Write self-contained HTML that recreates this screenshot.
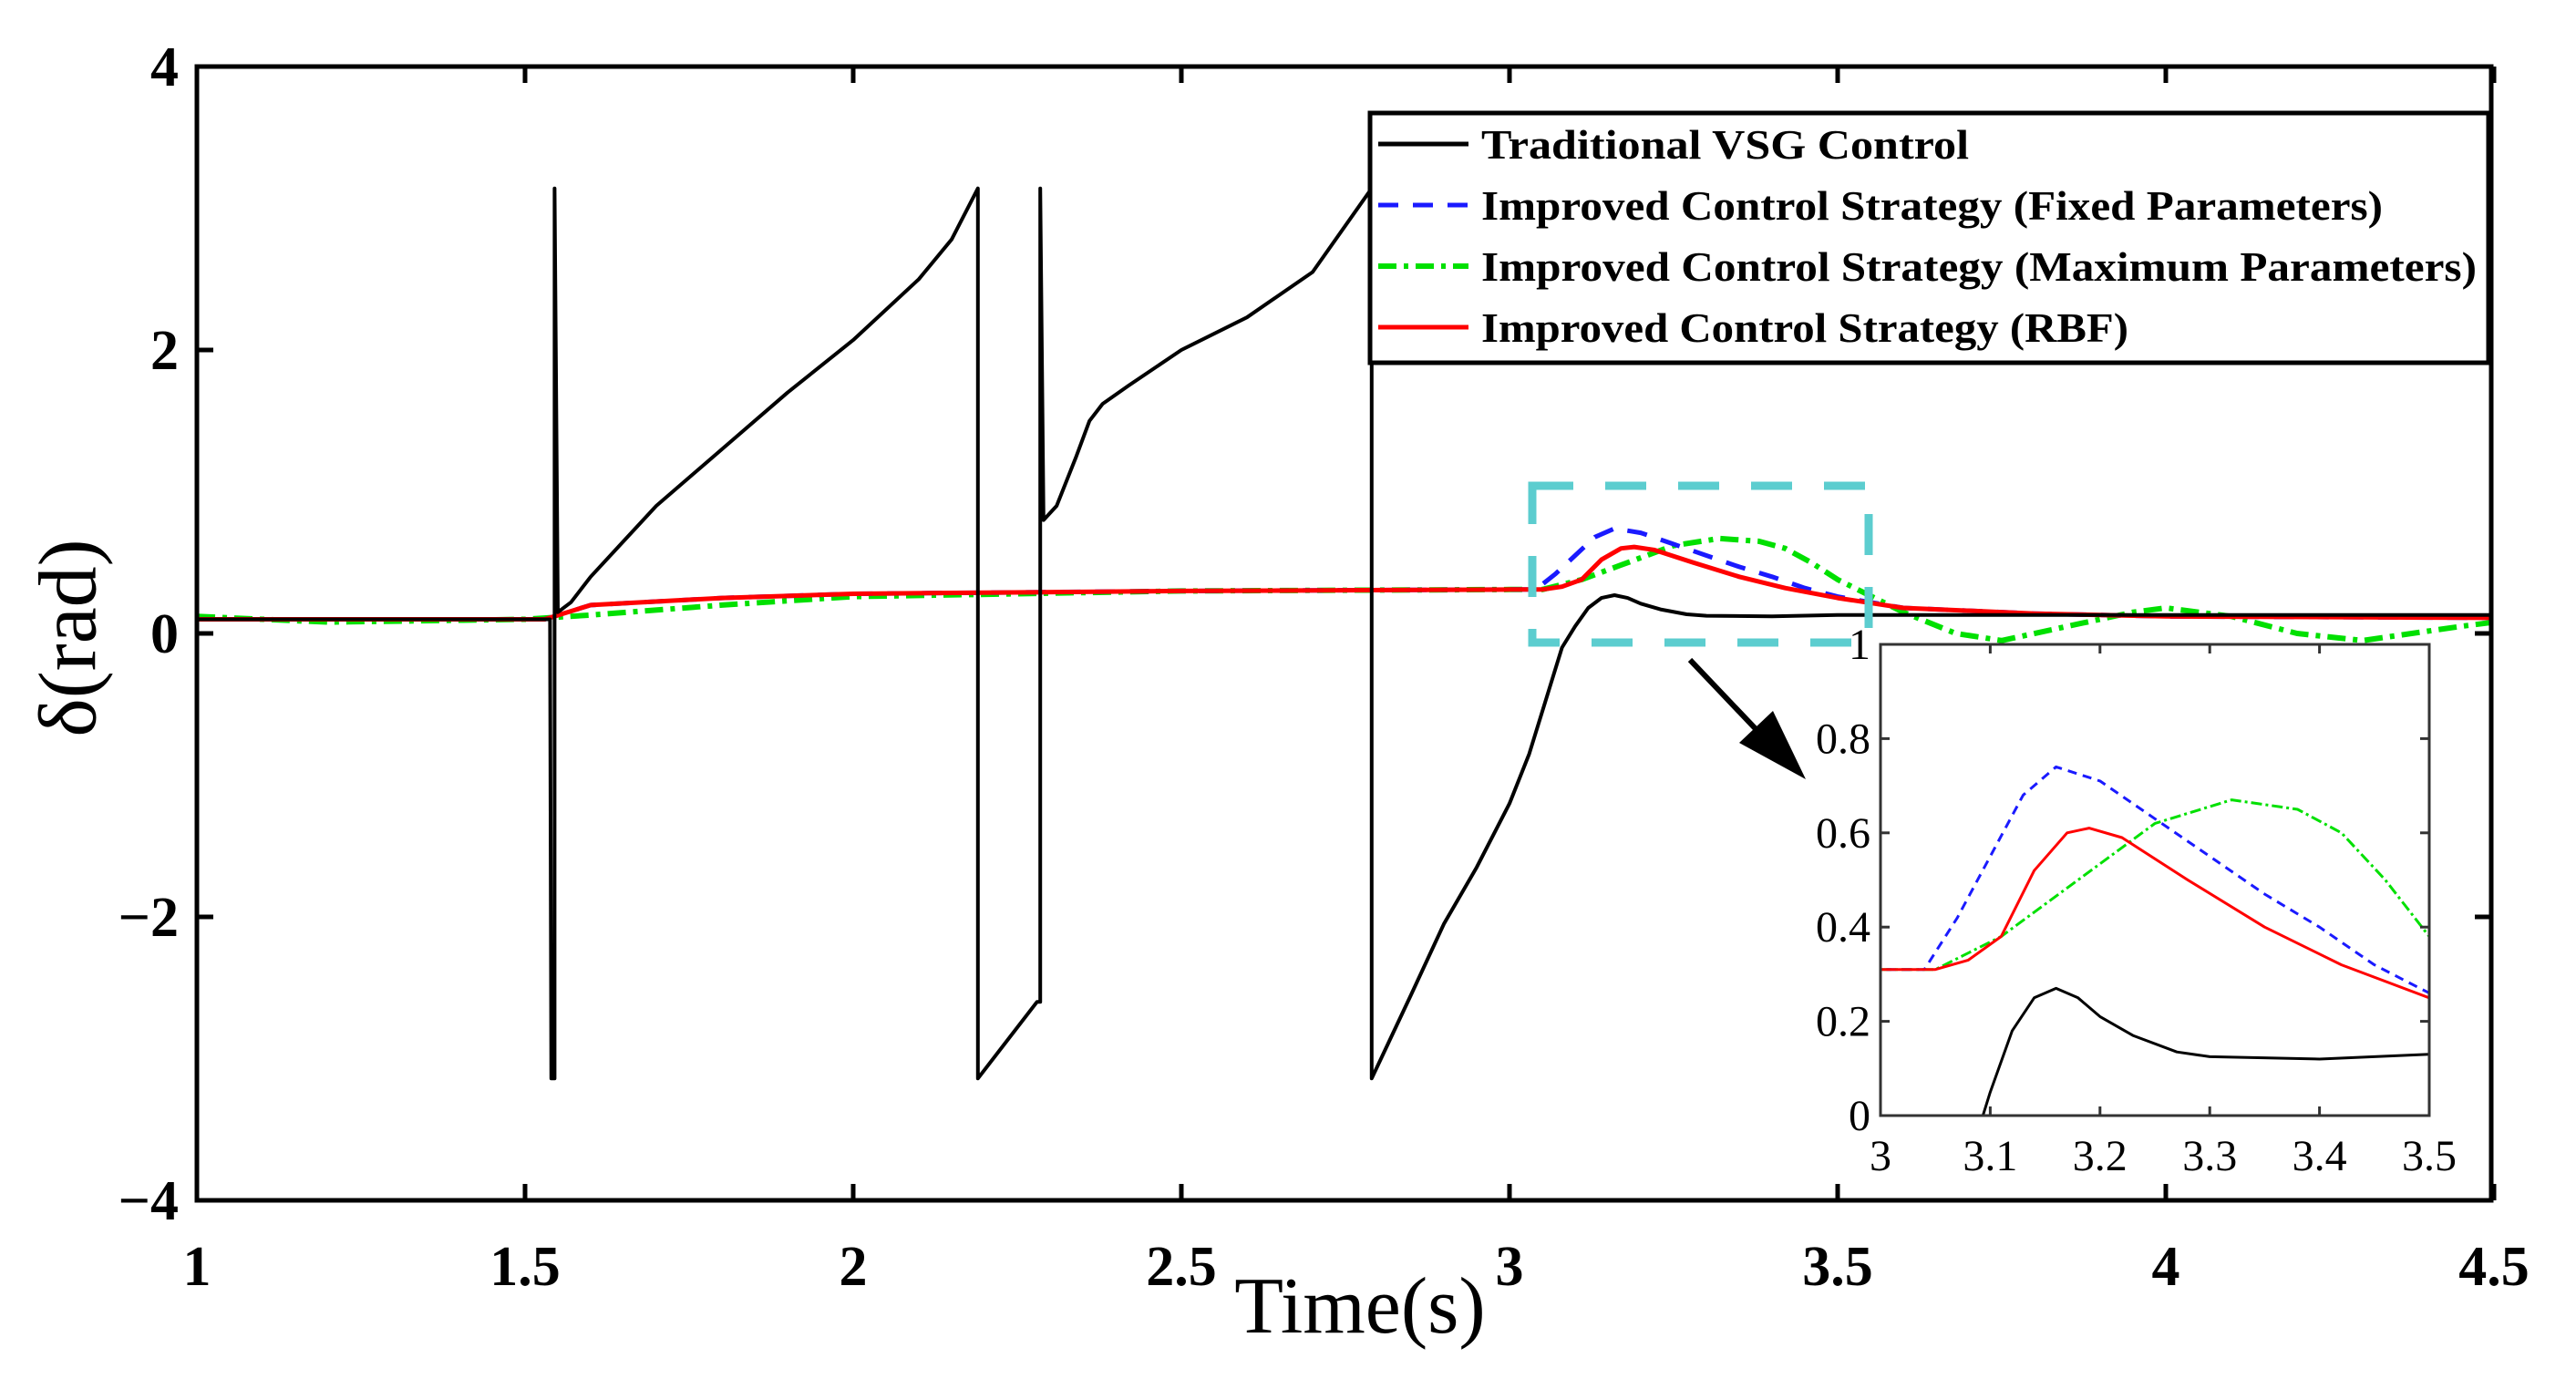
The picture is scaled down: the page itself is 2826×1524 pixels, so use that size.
<!DOCTYPE html>
<html><head><meta charset="utf-8"><style>
html,body{margin:0;padding:0;background:#fff;overflow:hidden}
svg{display:block}
text{font-family:"Liberation Serif",serif}
</style></head><body>
<svg id="c" width="2826" height="1524" viewBox="0 0 2826 1524" xmlns="http://www.w3.org/2000/svg">
<defs>
<clipPath id="mainclip"><rect x="216" y="73" width="2517" height="1244"/></clipPath>
<clipPath id="insetclip"><rect x="2063" y="707" width="602" height="517"/></clipPath>
</defs>
<g id="main" clip-path="url(#mainclip)"></g>
<rect x="216" y="73" width="2517" height="1244" fill="none" stroke="#000" stroke-width="5"/>
<g id="ticks"></g>
<text x="84" y="700" font-size="90" text-anchor="middle" transform="rotate(-90 84 700)" dominant-baseline="middle">δ(rad)</text>
<text x="1492" y="1462" font-size="88" text-anchor="middle">Time(s)</text>
<rect x="1681" y="533" width="369" height="172" fill="none" stroke="#5ccdcf" stroke-width="9" stroke-dasharray="45,35"/>
<line x1="1854" y1="724" x2="1950" y2="825" stroke="#000" stroke-width="6"/>
<polygon points="1981,855 1908,815 1945,780" fill="#000"/>
<g>
<rect x="1503" y="124" width="1227" height="274" fill="#fff" stroke="#000" stroke-width="5"/>
<line x1="1512" y1="158" x2="1611" y2="158" stroke="#000" stroke-width="5"/>
<line x1="1512" y1="225" x2="1611" y2="225" stroke="#1a1aff" stroke-width="5" stroke-dasharray="22,16"/>
<line x1="1512" y1="292" x2="1611" y2="292" stroke="#00e000" stroke-width="6" stroke-dasharray="20,8,5,8"/>
<line x1="1512" y1="359" x2="1611" y2="359" stroke="#ff0000" stroke-width="5"/>
<g font-size="46" font-weight="bold">
<text x="1625" y="174" textLength="535" lengthAdjust="spacingAndGlyphs">Traditional VSG Control</text>
<text x="1625" y="241" textLength="989" lengthAdjust="spacingAndGlyphs">Improved Control Strategy (Fixed Parameters)</text>
<text x="1625" y="308" textLength="1092" lengthAdjust="spacingAndGlyphs">Improved Control Strategy (Maximum Parameters)</text>
<text x="1625" y="375" textLength="710" lengthAdjust="spacingAndGlyphs">Improved Control Strategy (RBF)</text>
</g></g>
<rect x="2063" y="707" width="602" height="517" fill="#fff"/>
<g id="inset" clip-path="url(#insetclip)"></g>
<rect x="2063" y="707" width="602" height="517" fill="none" stroke="#333" stroke-width="3"/>
<g id="iticks"></g>
</svg>
<script>
const xTicks=[1,1.5,2,2.5,3,3.5,4,4.5];
const xTickLabels=["1","1.5","2","2.5","3","3.5","4","4.5"];
const yTicks=[-4,-2,0,2,4];
const yTickLabels=["\u22124","\u22122","0","2","4"];
const ixTicks=[3,3.1,3.2,3.3,3.4,3.5];
const ixTickLabels=["3","3.1","3.2","3.3","3.4","3.5"];
const iyTicks=[0,0.2,0.4,0.6,0.8,1];
const iyTickLabels=["0","0.2","0.4","0.6","0.8","1"];
const tradT=[1,1.3,1.538,1.54,1.545,1.545,1.55,1.57,1.6,1.65,1.7,1.8,1.9,2.0,2.1,2.15,2.19,2.19,2.28,2.285,2.285,2.29,2.31,2.34,2.36,2.38,2.42,2.5,2.6,2.7,2.79,2.79,2.85,2.9,2.95,3.0,3.03,3.06,3.08,3.1,3.12,3.14,3.16,3.18,3.2,3.23,3.27,3.3,3.4,3.5,3.8,4.5];
const tradV=[0.1,0.1,0.1,-3.14,-3.14,3.14,0.15,0.22,0.4,0.65,0.9,1.3,1.7,2.07,2.5,2.78,3.14,-3.14,-2.6,-2.6,3.14,0.8,0.9,1.25,1.5,1.62,1.75,2.0,2.23,2.55,3.14,-3.14,-2.55,-2.05,-1.65,-1.2,-0.85,-0.4,-0.1,0.05,0.18,0.25,0.27,0.25,0.21,0.17,0.135,0.125,0.12,0.13,0.13,0.13];
const rbfT=[1,1.53,1.6,1.8,2.0,2.5,3.0,3.05,3.08,3.11,3.14,3.17,3.19,3.22,3.28,3.35,3.42,3.5,3.6,3.8,4.0,4.5];
const rbfV=[0.1,0.1,0.2,0.25,0.28,0.3,0.31,0.31,0.33,0.38,0.52,0.6,0.61,0.59,0.5,0.4,0.32,0.25,0.18,0.14,0.12,0.11];
const fixT=[1,1.53,1.6,1.8,2.0,2.5,3.0,3.04,3.07,3.1,3.13,3.16,3.2,3.25,3.3,3.35,3.4,3.45,3.5,3.6,3.8,4.0,4.5];
const fixV=[0.1,0.1,0.2,0.25,0.28,0.3,0.31,0.31,0.42,0.55,0.68,0.74,0.71,0.63,0.55,0.47,0.4,0.32,0.26,0.18,0.14,0.12,0.11];
const maxT=[1,1.2,1.5,1.6,1.8,2.0,2.5,3.0,3.05,3.11,3.18,3.25,3.32,3.38,3.42,3.46,3.5,3.6,3.68,3.75,3.85,3.95,4.0,4.1,4.2,4.3,4.45,4.5];
const maxV=[0.12,0.08,0.1,0.13,0.2,0.26,0.3,0.31,0.31,0.38,0.5,0.62,0.67,0.65,0.6,0.5,0.38,0.15,0.0,-0.05,0.05,0.15,0.18,0.12,0.0,-0.05,0.05,0.08];
const NS="http://www.w3.org/2000/svg";
const mx=v=>216+(v-1)*720, my=v=>695-v*155.5;
const ix=v=>2063+(v-3)*1204, iy=v=>1224-v*517;
function mk(tag,attrs,parent){const e=document.createElementNS(NS,tag);for(const k in attrs)e.setAttribute(k,attrs[k]);parent.appendChild(e);return e;}
function pts(T,V,fx,fy){return T.map((t,i)=>fx(t).toFixed(1)+","+fy(V[i]).toFixed(1)).join(" ");}
const series=[[maxT,maxV,"#00e000","20,8,5,8",6,"series-maximum"],[fixT,fixV,"#1a1aff","22,16",5,"series-fixed"],[rbfT,rbfV,"#ff0000","",5,"series-rbf"],[tradT,tradV,"#000","",4,"series-traditional"]];
const main=document.getElementById("main"), inset=document.getElementById("inset");
series.forEach(s=>{
 let p=mk("polyline",{points:pts(s[0],s[1],mx,my),fill:"none",stroke:s[2],"stroke-width":s[4],"stroke-dasharray":s[3]||"none","stroke-linejoin":"round"},main);
 
 
 let q=mk("polyline",{points:pts(s[0],s[1],ix,iy),fill:"none",stroke:s[2],"stroke-width":3,"stroke-dasharray":s[3]?(s[3]==="22,16"?"10,7":"12,4,3,4"):"none","stroke-linejoin":"round"},inset);
 
 
});
const tk=document.getElementById("ticks");
xTicks.forEach((v,i)=>{
 const x=mx(v);
 mk("line",{x1:x,y1:1317,x2:x,y2:1299,stroke:"#000","stroke-width":5},tk);
 mk("line",{x1:x,y1:73,x2:x,y2:91,stroke:"#000","stroke-width":5},tk);
 const t=mk("text",{x:x,y:1410,"font-size":62,"font-weight":"bold","text-anchor":"middle"},tk);
 t.textContent=xTickLabels[i];
 
 
});
yTicks.forEach((v,i)=>{
 const y=my(v);
 mk("line",{x1:216,y1:y,x2:234,y2:y,stroke:"#000","stroke-width":5},tk);
 mk("line",{x1:2733,y1:y,x2:2715,y2:y,stroke:"#000","stroke-width":5},tk);
 const t=mk("text",{x:196,y:y+21,"font-size":62,"font-weight":"bold","text-anchor":"end"},tk);
 t.textContent=yTickLabels[i];
 
 
});
const it=document.getElementById("iticks");
ixTicks.forEach((v,i)=>{
 const x=ix(v);
 mk("line",{x1:x,y1:1224,x2:x,y2:1214,stroke:"#333","stroke-width":3},it);
 mk("line",{x1:x,y1:707,x2:x,y2:717,stroke:"#333","stroke-width":3},it);
 const t=mk("text",{x:x,y:1284,"font-size":48,"text-anchor":"middle"},it);
 t.textContent=ixTickLabels[i];
 
 
});
iyTicks.forEach((v,i)=>{
 const y=iy(v);
 mk("line",{x1:2063,y1:y,x2:2073,y2:y,stroke:"#333","stroke-width":3},it);
 mk("line",{x1:2665,y1:y,x2:2655,y2:y,stroke:"#333","stroke-width":3},it);
 const t=mk("text",{x:2052,y:y+16,"font-size":48,"text-anchor":"end"},it);
 t.textContent=iyTickLabels[i];
 
 
});
</script>
</body></html>
